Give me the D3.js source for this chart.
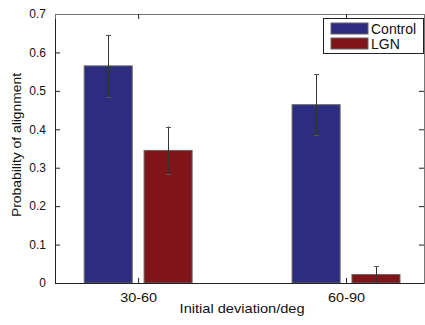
<!DOCTYPE html>
<html>
<head>
<meta charset="utf-8">
<script src="https://cdn.jsdelivr.net/npm/d3@7"></script>
<style>
  body { margin: 0; background: #fff; }
  text { font-family: "Liberation Sans", Arial, sans-serif; fill: #111; }
</style>
</head>
<body>
<div id="chart"></div>
<script>
// data
const groups = ["30-60", "60-90"];
const series = ["Control", "LGN"];
const control = [0.565, 0.464];
const controlErr = [0.081, 0.079];
const lgn = [0.345, 0.022];
const lgnErr = [0.062, 0.022];
const yTicks = [0, 0.1, 0.2, 0.3, 0.4, 0.5, 0.6, 0.7];

const colors = { Control: "#2c2d80", LGN: "#7f1518" };

const W = 425, H = 325;
const margin = { top: 14, right: 1, bottom: 42, left: 55 };

const svg = d3.select("#chart").append("svg")
  .attr("width", W)
  .attr("height", H);

// group positions 1, 2 like matlab bar()
const x = d3.scaleLinear()
  .domain([0.6, 2.375])
  .range([margin.left, W - margin.right]);

const y = d3.scaleLinear()
  .domain([0, 0.7])
  .range([H - margin.bottom, margin.top]);

const barW = 0.231;   // in x units
const offset = 0.144;

const rows = [];
groups.forEach((g, i) => {
  rows.push({ s: "Control", pos: i + 1 - offset, v: control[i], e: controlErr[i] });
  rows.push({ s: "LGN", pos: i + 1 + offset, v: lgn[i], e: lgnErr[i] });
});

// bars
svg.append("g")
  .selectAll("rect")
  .data(rows)
  .join("rect")
    .attr("x", d => x(d.pos - barW / 2))
    .attr("width", d => x(d.pos + barW / 2) - x(d.pos - barW / 2))
    .attr("y", d => y(d.v))
    .attr("height", d => y(0) - y(d.v))
    .attr("fill", d => colors[d.s])
    .attr("stroke", "#666")
    .attr("stroke-width", 1);

// error bars
const eb = svg.append("g").selectAll("g").data(rows).join("g");
eb.append("line")
  .attr("x1", d => Math.round(x(d.pos)) + 0.5)
  .attr("x2", d => Math.round(x(d.pos)) + 0.5)
  .attr("y1", d => y(d.v + d.e))
  .attr("y2", d => y(d.v - d.e))
  .attr("stroke", "#333")
  .attr("stroke-width", 1);
[1, -1].forEach(sign => {
  eb.append("line")
    .attr("x1", d => Math.round(x(d.pos)) - 2)
    .attr("x2", d => Math.round(x(d.pos)) + 3)
    .attr("y1", d => Math.round(y(d.v + sign * d.e)) + 0.5)
    .attr("y2", d => Math.round(y(d.v + sign * d.e)) + 0.5)
    .attr("stroke", "#555")
    .attr("stroke-width", 1);
});

// axes box, matlab style with inward ticks
const yAxis = d3.axisLeft(y).tickValues(yTicks).tickSize(-5).tickPadding(9)
  .tickFormat(d => d === 0 ? "0" : d3.format(".1f")(d));
const gy = svg.append("g")
  .attr("transform", `translate(${margin.left},0)`)
  .call(yAxis);
gy.selectAll("text").style("font-size", "12px");

const xAxis = d3.axisBottom(x).tickValues([1, 2]).tickSize(-5).tickPadding(10)
  .tickFormat((d, i) => groups[i]);
const gx = svg.append("g")
  .attr("transform", `translate(0,${H - margin.bottom})`)
  .call(xAxis);
gx.selectAll("text")
  .style("font-size", "13px")
  .attr("textLength", 37)
  .attr("lengthAdjust", "spacingAndGlyphs");

const gyR = svg.append("g")
  .attr("transform", `translate(${W - margin.right},0)`)
  .call(d3.axisRight(y).tickValues(yTicks).tickSize(-5).tickFormat(""));
const gxT = svg.append("g")
  .attr("transform", `translate(0,${margin.top})`)
  .call(d3.axisTop(x).tickValues([1, 2]).tickSize(-5).tickFormat(""));

[gy, gx, gyR, gxT].forEach(g => {
  g.select(".domain").attr("stroke", "#222");
  g.selectAll(".tick line").attr("stroke", "#222");
});
gxT.select(".domain").attr("stroke", "#777");
gyR.select(".domain").attr("stroke", "#777");

// labels
svg.append("text")
  .text("Initial deviation/deg")
  .attr("x", x(1.5))
  .attr("y", 313)
  .attr("text-anchor", "middle")
  .attr("textLength", 125)
  .attr("lengthAdjust", "spacingAndGlyphs")
  .style("font-size", "13px");

svg.append("text")
  .text("Probability of alignment")
  .attr("transform", `translate(21,145) rotate(-90)`)
  .attr("text-anchor", "middle")
  .attr("textLength", 144)
  .attr("lengthAdjust", "spacingAndGlyphs")
  .style("font-size", "13px");

// legend
const leg = svg.append("g");
leg.append("rect")
  .attr("x", 323.5).attr("y", 18.5)
  .attr("width", 100).attr("height", 35)
  .attr("fill", "#fff")
  .attr("stroke", "#222");
const li = leg.selectAll("g.item")
  .data(series)
  .join("g")
    .attr("class", "item")
    .attr("transform", (d, i) => `translate(331,${23 + i * 15})`);
li.append("rect")
  .attr("width", 37).attr("height", 11)
  .attr("fill", d => colors[d])
  .attr("stroke", "#666");
li.append("text")
  .text(d => d)
  .attr("x", 40)
  .attr("y", 11)
  .style("font-size", "14px");
</script>
</body>
</html>
